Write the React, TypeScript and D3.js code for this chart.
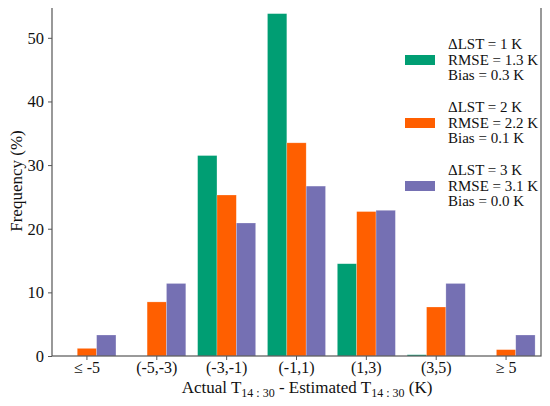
import { useRef, useEffect } from 'react'
import * as d3 from 'd3'

const categories = ['≤ -5', '(-5,-3)', '(-3,-1)', '(-1,1)', '(1,3)', '(3,5)', '≥ 5']
const dlst1 = [0, 0, 31.5, 53.8, 14.5, 0.2, 0]
const dlst2 = [1.2, 8.5, 25.3, 33.5, 22.7, 7.7, 1.0]
const dlst3 = [3.3, 11.4, 20.9, 26.7, 22.9, 11.4, 3.3]
const yTicks = [0, 10, 20, 30, 40, 50]

const seriesColors = ['#009E73', '#FF5F00', '#7570B3']
const legendLines = [
  ['ΔLST = 1 K', 'RMSE = 1.3 K', 'Bias = 0.3 K'],
  ['ΔLST = 2 K', 'RMSE = 2.2 K', 'Bias = 0.1 K'],
  ['ΔLST = 3 K', 'RMSE = 3.1 K', 'Bias = 0.0 K'],
]

export default function App() {
  const svgRef = useRef<SVGSVGElement>(null)

  useEffect(() => {
    if (!svgRef.current) return
    const w = 550
    const h = 406
    const svg = d3.select(svgRef.current)
    svg.selectAll('*').remove()
    svg.attr('width', w).attr('height', h)

    const left = 52
    const right = 541
    const top = 6
    const bottom = 356
    const font = '"Liberation Serif", "Times New Roman", serif'
    const axisColor = '#555'

    const x = d3.scaleBand<string>().domain(categories).range([left, right])
    const y = d3.scaleLinear().domain([0, 55]).range([bottom, top])
    const barW = x.bandwidth() * 0.277
    const series = [dlst1, dlst2, dlst3]

    // bars
    series.forEach((vals, si) => {
      svg
        .append('g')
        .selectAll('rect')
        .data(vals)
        .join('rect')
        .attr('x', (_, i) => x(categories[i])! + x.bandwidth() / 2 + (si - 1.5) * barW)
        .attr('y', (d) => y(d))
        .attr('width', barW)
        .attr('height', (d) => bottom - y(d))
        .attr('fill', seriesColors[si])
        .attr('stroke', '#fff')
        .attr('stroke-opacity', 0.4)
        .attr('stroke-width', 0.6)
    })

    // frame
    svg
      .append('rect')
      .attr('x', left)
      .attr('y', top)
      .attr('width', right - left)
      .attr('height', bottom - top)
      .attr('fill', 'none')
      .attr('stroke', axisColor)
      .attr('stroke-width', 1.2)

    // y axis
    const yAxis = svg
      .append('g')
      .attr('transform', `translate(${left},0)`)
      .call(d3.axisLeft(y).tickValues(yTicks).tickSize(4).tickPadding(4))
      .attr('font-family', null)
      .attr('font-size', null)
    yAxis.select('.domain').remove()
    yAxis.selectAll('line').attr('stroke', axisColor)
    yAxis
      .selectAll('text')
      .style('font-family', font)
      .style('font-size', '16.5px')
      .attr('fill', '#111')

    // x axis
    const xAxis = svg
      .append('g')
      .attr('transform', `translate(0,${bottom})`)
      .call(d3.axisBottom(x).tickSize(4).tickPadding(2))
      .attr('font-family', null)
      .attr('font-size', null)
    xAxis.select('.domain').remove()
    xAxis.selectAll('line').attr('stroke', axisColor)
    xAxis
      .selectAll('text')
      .style('font-family', font)
      .style('font-size', '16px')
      .attr('fill', '#111')

    // axis labels
    svg
      .append('text')
      .attr('transform', `translate(22,${(top + bottom) / 2}) rotate(-90)`)
      .attr('text-anchor', 'middle')
      .style('font-family', font)
      .style('font-size', '17px')
      .attr('fill', '#111')
      .text('Frequency (%)')

    const xl = svg
      .append('text')
      .attr('x', 307)
      .attr('y', 393)
      .attr('text-anchor', 'middle')
      .style('font-family', font)
      .style('font-size', '17px')
      .attr('fill', '#111')
    xl.append('tspan').text('Actual T')
    xl.append('tspan').style('font-size', '12px').attr('dy', 4).text('14 : 30')
    xl.append('tspan').attr('dy', -4).text(' - Estimated T')
    xl.append('tspan').style('font-size', '12px').attr('dy', 4).text('14 : 30')
    xl.append('tspan').attr('dy', -4).text(' (K)')

    // legend
    const legendTop = [44, 107, 170]
    legendLines.forEach((lines, gi) => {
      const g = svg.append('g')
      g.append('rect')
        .attr('x', 405)
        .attr('y', legendTop[gi] + 11)
        .attr('width', 30)
        .attr('height', 10)
        .attr('fill', seriesColors[gi])
      lines.forEach((t, li) => {
        g.append('text')
          .attr('x', 448)
          .attr('y', legendTop[gi] + li * 15.5 + 5)
          .style('font-family', font)
          .style('font-size', '15px')
          .attr('fill', '#111')
          .text(t)
      })
    })
  }, [])

  return (
    <div style={{ margin: -8 }}>
      <svg ref={svgRef} style={{ display: 'block' }} />
    </div>
  )
}
